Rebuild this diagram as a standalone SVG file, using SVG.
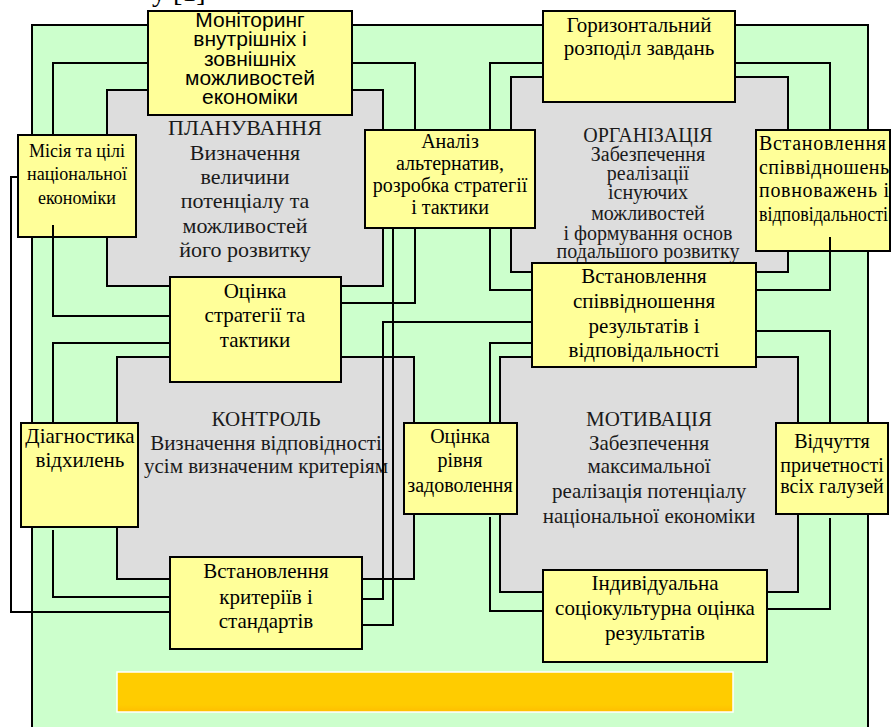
<svg xmlns="http://www.w3.org/2000/svg" width="893" height="727" viewBox="0 0 893 727">
<defs>
<linearGradient id="og" x1="0" y1="0" x2="0" y2="1">
<stop offset="0" stop-color="#FFCC00"/>
<stop offset="0.82" stop-color="#FFCC00"/>
<stop offset="1" stop-color="#FFBE00"/>
</linearGradient>
</defs>
<style>
.bx{fill:#FFFF99;stroke:#000;stroke-width:2}
.gr{fill:#DDDDDD;stroke:#000;stroke-width:2}
.ln{fill:none;stroke:#000;stroke-width:2}
.s{font-family:"Liberation Serif","Times New Roman",serif;fill:#000;text-anchor:middle}
.a{font-family:"Liberation Sans",Arial,sans-serif;fill:#000;text-anchor:middle}
.g{font-family:"Liberation Serif","Times New Roman",serif;fill:#1a1a1a;text-anchor:middle}
</style>
<rect width="893" height="727" fill="#fff"/>
<text x="152" y="0.5" font-family="Liberation Serif, serif" font-size="28">у [1]</text>
<rect x="32" y="25" width="836" height="720" fill="#CCFFCC" stroke="#000" stroke-width="2"/>
<rect x="117" y="672" width="616" height="40" fill="url(#og)" stroke="#fff" stroke-width="1.5"/>

<g id="planning">
<rect class="gr" x="107" y="90" width="276" height="196"/>
<text class="g" font-size="22"><tspan x="245" y="135">ПЛАНУВАННЯ</tspan><tspan x="245" y="160">Визначення</tspan><tspan x="245" y="184">величини</tspan><tspan x="245" y="208">потенціалу та</tspan><tspan x="245" y="233">можливостей</tspan><tspan x="245" y="257">його розвитку</tspan></text>
</g>
<g id="organization">
<rect class="gr" x="511" y="77" width="277" height="195"/>
<text class="g" font-size="20"><tspan x="648" y="142">ОРГАНІЗАЦІЯ</tspan><tspan x="648" y="161">Забезпечення</tspan><tspan x="648" y="180">реалізації</tspan><tspan x="648" y="199">існуючих</tspan><tspan x="648" y="220">можливостей</tspan><tspan x="648" y="240">і формування основ</tspan><tspan x="648" y="258">подальшого розвитку</tspan></text>
</g>
<g id="control">
<rect class="gr" x="117" y="357" width="297" height="222"/>
<text class="g" font-size="21"><tspan x="266" y="426">КОНТРОЛЬ</tspan><tspan x="266" y="450">Визначення відповідності</tspan><tspan x="266" y="473">усім визначеним критеріям</tspan></text>
</g>
<g id="motivation">
<rect class="gr" x="500" y="357" width="298" height="235"/>
<text class="g" font-size="21"><tspan x="649" y="426">МОТИВАЦІЯ</tspan><tspan x="649" y="450">Забезпечення</tspan><tspan x="649" y="473">максимальної</tspan><tspan x="649" y="498">реалізація потенціалу</tspan><tspan x="649" y="523">національної економіки</tspan></text>
</g>

<g id="monitoring">
<rect class="bx" x="148" y="11" width="204" height="104"/>
<text class="a" font-size="21"><tspan x="250" y="27">Моніторинг</tspan><tspan x="250" y="46">внутрішніх і</tspan><tspan x="250" y="66">зовнішніх</tspan><tspan x="250" y="85">можливостей</tspan><tspan x="250" y="104">економіки</tspan></text>
</g>
<g id="mission">
<rect class="bx" x="18" y="135" width="118" height="102"/>
<text class="s" font-size="18"><tspan x="77" y="157">Місія та цілі</tspan><tspan x="77" y="180">національної</tspan><tspan x="77" y="204">економіки</tspan></text>
</g>
<g id="analysis">
<rect class="bx" x="365" y="130" width="170" height="98"/>
<text class="s" font-size="20"><tspan x="450" y="148">Аналіз</tspan><tspan x="450" y="170">альтернатив,</tspan><tspan x="450" y="192">розробка стратегії</tspan><tspan x="450" y="214">і тактики</tspan></text>
</g>
<g id="horizontal">
<rect class="bx" x="543" y="11" width="192" height="91"/>
<text class="s" font-size="21"><tspan x="639" y="32">Горизонтальний</tspan><tspan x="639" y="55">розподіл завдань</tspan></text>
</g>
<g id="authority">
<rect class="bx" x="756" y="130" width="134" height="121"/>
<text class="s" font-size="20" style="text-anchor:start"><tspan x="759" y="150" textLength="127" lengthAdjust="spacing">Встановлення</tspan><tspan x="759" y="174" textLength="130" lengthAdjust="spacing">співвідношень</tspan><tspan x="759" y="197" textLength="130" lengthAdjust="spacing">повноважень  і</tspan><tspan x="759" y="221" textLength="129" lengthAdjust="spacingAndGlyphs">відповідальності</tspan></text>
</g>
<g id="evaluation">
<rect class="bx" x="170" y="277" width="171" height="105"/>
<text class="s" font-size="21"><tspan x="255" y="298">Оцінка</tspan><tspan x="255" y="322">стратегії та</tspan><tspan x="255" y="347">тактики</tspan></text>
</g>
<g id="results">
<rect class="bx" x="532" y="263" width="224" height="104"/>
<text class="s" font-size="21"><tspan x="644" y="283">Встановлення</tspan><tspan x="644" y="308">співвідношення</tspan><tspan x="644" y="333">результатів і</tspan><tspan x="644" y="357">відповідальності</tspan></text>
</g>
<g id="diagnostics">
<rect class="bx" x="21" y="423" width="117" height="104"/>
<text class="s" font-size="21"><tspan x="80" y="443">Діагностика</tspan><tspan x="80" y="467">відхилень</tspan></text>
</g>
<g id="satisfaction">
<rect class="bx" x="404" y="423" width="113" height="91"/>
<text class="s" font-size="20"><tspan x="460" y="443">Оцінка</tspan><tspan x="460" y="467">рівня</tspan><tspan x="460" y="492">задоволення</tspan></text>
</g>
<g id="involvement">
<rect class="bx" x="776" y="423" width="112" height="91"/>
<text class="s" font-size="20"><tspan x="832" y="448">Відчуття</tspan><tspan x="832" y="472">причетності</tspan><tspan x="832" y="493">всіх галузей</tspan></text>
</g>
<g id="criteria">
<rect class="bx" x="170" y="557" width="192" height="92"/>
<text class="s" font-size="21"><tspan x="266" y="578">Встановлення</tspan><tspan x="266" y="604">критеріїв і</tspan><tspan x="266" y="628">стандартів</tspan></text>
</g>
<g id="individual">
<rect class="bx" x="543" y="570" width="224" height="92"/>
<text class="s" font-size="21"><tspan x="655" y="590">Індивідуальна</tspan><tspan x="655" y="615">соціокультурна оцінка</tspan><tspan x="655" y="640">результатів</tspan></text>
</g>

<g id="connectors" class="ln">
<path d="M148,63 H53 V135"/>
<path d="M352,63 H415 V130"/>
<path d="M543,63 H490 V130"/>
<path d="M735,63 H830 V130"/>
<path d="M53,225 V316 H170"/>
<path d="M170,343 H53 V423"/>
<path d="M18,177 H11 V612 H170"/>
<path d="M53,530 V597 H170"/>
<path d="M415,228 V303 H341"/>
<path d="M393,228 V625 H362"/>
<path d="M490,228 V290 H532"/>
<path d="M532,322 H383 V599 H362"/>
<path d="M830,237 V290 H756"/>
<path d="M756,331 H830 V423"/>
<path d="M532,343 H490 V423"/>
<path d="M490,517 V611 H543"/>
<path d="M830,518 V609 H767"/>
</g>
</svg>
